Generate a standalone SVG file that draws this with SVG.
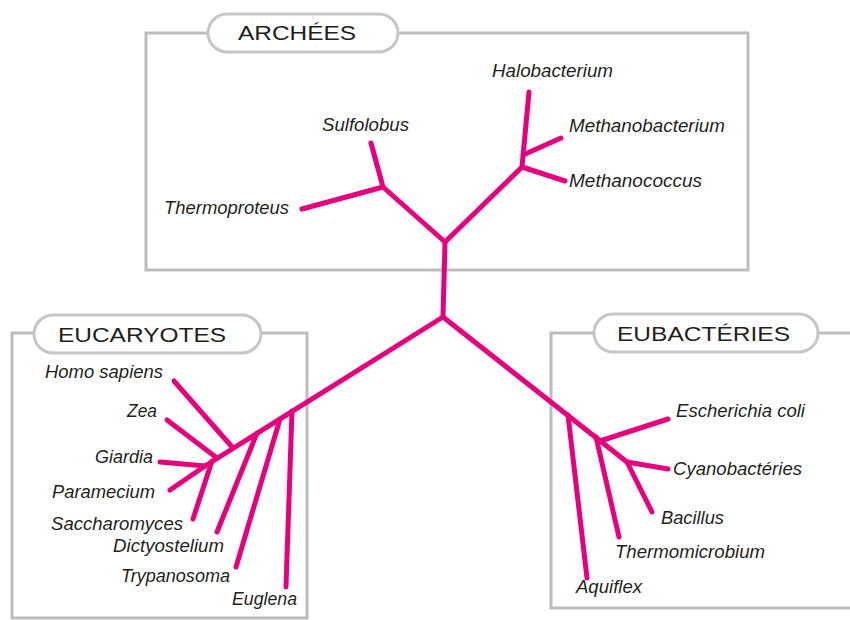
<svg xmlns="http://www.w3.org/2000/svg" width="850" height="620" viewBox="0 0 850 620">
  <style>
    .box { fill: none; stroke: #bdbdc0; stroke-width: 3; }
    .pill { fill: #ffffff; stroke: #c6c6c8; stroke-width: 3; }
    .title { font-family: "Liberation Sans", Arial, sans-serif; font-size: 20.5px; fill: #231f20; }
    .lbl { font-family: "Liberation Sans", Arial, sans-serif; font-size: 18px; font-style: italic; fill: #231f20; }
    .br { fill: none; stroke: #e6007e; stroke-width: 5; stroke-linecap: round; stroke-linejoin: round; }
  </style>
  <rect width="850" height="620" fill="#ffffff"/>

  <g id="archees">
    <rect class="box" x="146" y="33" width="602" height="237"/>
    <rect class="pill" x="208" y="14" width="190" height="38" rx="19"/>
    <text class="title" x="238" y="40" textLength="118" lengthAdjust="spacingAndGlyphs">ARCHÉES</text>
  </g>
  <g id="eucaryotes">
    <rect class="box" x="12" y="333" width="295" height="285"/>
    <rect class="pill" x="34" y="315" width="227" height="38" rx="19"/>
    <text class="title" x="58" y="342" textLength="168" lengthAdjust="spacingAndGlyphs">EUCARYOTES</text>
  </g>
  <g id="eubacteries">
    <rect class="box" x="551" y="333" width="320" height="275"/>
    <rect class="pill" x="594" y="314" width="224" height="38" rx="19"/>
    <text class="title" x="617" y="341" textLength="173" lengthAdjust="spacingAndGlyphs">EUBACTÉRIES</text>
  </g>

  <g id="connectors">
    <!-- root and archées -->
    <path class="br" d="M443,317 L445,242"/>
    <path class="br" d="M445,242 L383,187 M383,187 L371,143 M383,187 L302,209"/>
    <path class="br" d="M445,242 L522,167 L529,92 M523,155 L561,138 M522,167 L565,181"/>
    <!-- eucaryotes -->
    <path class="br" d="M443,317 L205,466"/>
    <path class="br" d="M292,411 L286,587"/>
    <path class="br" d="M280,419 L236,567"/>
    <path class="br" d="M257,433 L217,532"/>
    <path class="br" d="M233,448 L174,381"/>
    <path class="br" d="M217,458 L167,420"/>
    <path class="br" d="M212,461 L193,519"/>
    <path class="br" d="M205,466 L160,462"/>
    <path class="br" d="M205,466 L170,490"/>
    <!-- eubactéries -->
    <path class="br" d="M443,317 L627,462"/>
    <path class="br" d="M568,415 L587,578"/>
    <path class="br" d="M596,437 L619,537"/>
    <path class="br" d="M600,441 L668,419"/>
    <path class="br" d="M627,462 L668,469"/>
    <path class="br" d="M627,462 L652,512"/>
  </g>

  <g id="halobacterium"><text class="lbl" x="492" y="77" textLength="121" lengthAdjust="spacingAndGlyphs">Halobacterium</text></g>
  <g id="sulfolobus"><text class="lbl" x="322" y="131" textLength="87" lengthAdjust="spacingAndGlyphs">Sulfolobus</text></g>
  <g id="methanobacterium"><text class="lbl" x="569" y="132" textLength="156" lengthAdjust="spacingAndGlyphs">Methanobacterium</text></g>
  <g id="methanococcus"><text class="lbl" x="569" y="187" textLength="133" lengthAdjust="spacingAndGlyphs">Methanococcus</text></g>
  <g id="thermoproteus"><text class="lbl" x="164" y="214" textLength="125" lengthAdjust="spacingAndGlyphs">Thermoproteus</text></g>

  <g id="homo-sapiens"><text class="lbl" x="45" y="378" textLength="118" lengthAdjust="spacingAndGlyphs">Homo sapiens</text></g>
  <g id="zea"><text class="lbl" x="127" y="417" textLength="30" lengthAdjust="spacingAndGlyphs">Zea</text></g>
  <g id="giardia"><text class="lbl" x="95" y="463" textLength="58" lengthAdjust="spacingAndGlyphs">Giardia</text></g>
  <g id="paramecium"><text class="lbl" x="52" y="498" textLength="103" lengthAdjust="spacingAndGlyphs">Paramecium</text></g>
  <g id="saccharomyces"><text class="lbl" x="51" y="530" textLength="132" lengthAdjust="spacingAndGlyphs">Saccharomyces</text></g>
  <g id="dictyostelium"><text class="lbl" x="113" y="552" textLength="111" lengthAdjust="spacingAndGlyphs">Dictyostelium</text></g>
  <g id="trypanosoma"><text class="lbl" x="121" y="582" textLength="109" lengthAdjust="spacingAndGlyphs">Trypanosoma</text></g>
  <g id="euglena"><text class="lbl" x="232" y="605" textLength="65" lengthAdjust="spacingAndGlyphs">Euglena</text></g>

  <g id="escherichia-coli"><text class="lbl" x="676" y="417" textLength="129" lengthAdjust="spacingAndGlyphs">Escherichia coli</text></g>
  <g id="cyanobacteries"><text class="lbl" x="673" y="475" textLength="129" lengthAdjust="spacingAndGlyphs">Cyanobactéries</text></g>
  <g id="bacillus"><text class="lbl" x="661" y="524" textLength="63" lengthAdjust="spacingAndGlyphs">Bacillus</text></g>
  <g id="thermomicrobium"><text class="lbl" x="615" y="558" textLength="150" lengthAdjust="spacingAndGlyphs">Thermomicrobium</text></g>
  <g id="aquiflex"><text class="lbl" x="576" y="593" textLength="66" lengthAdjust="spacingAndGlyphs">Aquiflex</text></g>
</svg>
